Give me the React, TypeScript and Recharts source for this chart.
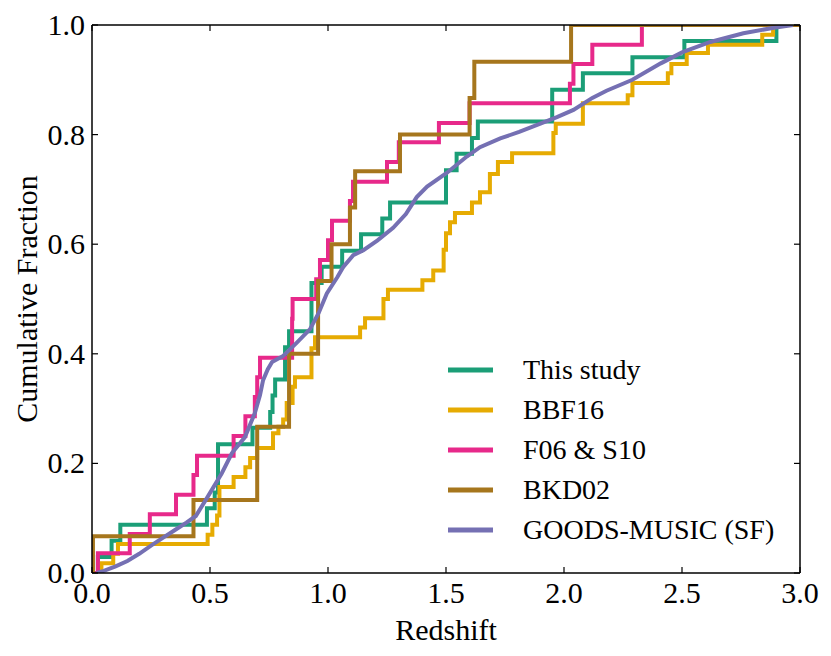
import { LineChart, Line, XAxis, YAxis, Legend } from 'recharts';

// Cumulative redshift distributions
const thisStudyZ = [0, 0.025, 0.083, 0.12, 0.487, 0.52, 0.534, 0.68, 0.755, 0.765, 0.776, 0.818, 0.835, 0.93, 0.973, 1.06, 1.14, 1.23, 1.263, 1.5, 1.545, 1.61, 1.635, 1.95, 2.08, 2.29, 2.51, 2.9, 3.0];
const thisStudyF = [0, 0.029, 0.059, 0.088, 0.118, 0.147, 0.235, 0.265, 0.294, 0.324, 0.353, 0.412, 0.441, 0.529, 0.559, 0.588, 0.618, 0.647, 0.676, 0.735, 0.765, 0.794, 0.824, 0.882, 0.912, 0.941, 0.971, 1.0, 1.0];

const bbf16Z = [0, 0.04, 0.09, 0.11, 0.49, 0.51, 0.53, 0.54, 0.6, 0.65, 0.67, 0.7, 0.767, 0.79, 0.81, 0.825, 0.85, 0.86, 0.93, 0.945, 1.136, 1.157, 1.235, 1.254, 1.4, 1.446, 1.49, 1.5, 1.517, 1.538, 1.61, 1.644, 1.686, 1.72, 1.78, 1.955, 1.965, 2.08, 2.27, 2.29, 2.44, 2.455, 2.52, 2.61, 2.84, 2.886, 3.0];
const bbf16F = [0, 0.018, 0.035, 0.053, 0.07, 0.088, 0.105, 0.157, 0.175, 0.193, 0.21, 0.228, 0.255, 0.267, 0.28, 0.31, 0.34, 0.357, 0.41, 0.43, 0.448, 0.465, 0.5, 0.517, 0.534, 0.552, 0.59, 0.62, 0.64, 0.657, 0.676, 0.695, 0.728, 0.75, 0.766, 0.803, 0.82, 0.857, 0.872, 0.894, 0.912, 0.929, 0.949, 0.964, 0.982, 1.0, 1.0];

const f06Z = [0, 0.025, 0.16, 0.245, 0.356, 0.43, 0.445, 0.6, 0.65, 0.69, 0.7, 0.712, 0.848, 0.85, 0.95, 0.966, 1.0, 1.017, 1.093, 1.106, 1.25, 1.3, 1.47, 1.6, 2.025, 2.04, 2.12, 2.33, 3.0];
const f06F = [0, 0.036, 0.071, 0.107, 0.143, 0.179, 0.214, 0.25, 0.286, 0.321, 0.357, 0.393, 0.464, 0.5, 0.536, 0.571, 0.607, 0.643, 0.679, 0.714, 0.75, 0.786, 0.821, 0.857, 0.893, 0.929, 0.964, 1.0, 1.0];

const bkd02Z = [0, 0.004, 0.43, 0.7, 0.835, 0.958, 1.015, 1.093, 1.115, 1.305, 1.6, 1.62, 2.03, 3.0];
const bkd02F = [0, 0.067, 0.133, 0.267, 0.4, 0.533, 0.6, 0.667, 0.733, 0.8, 0.867, 0.933, 1.0, 1.0];

const goodsZ = [0.02, 0.05, 0.1, 0.15, 0.2, 0.25, 0.3, 0.35, 0.4, 0.44, 0.49, 0.55, 0.593, 0.648, 0.69, 0.712, 0.725, 0.745, 0.763, 0.81, 0.867, 0.924, 0.96, 0.995, 1.04, 1.064, 1.107, 1.15, 1.21, 1.276, 1.33, 1.376, 1.42, 1.503, 1.588, 1.644, 1.73, 1.81, 1.9, 1.97, 2.04, 2.12, 2.18, 2.29, 2.41, 2.5, 2.62, 2.76, 2.89, 2.97];
const goodsF = [0, 0.004, 0.012, 0.022, 0.035, 0.05, 0.064, 0.078, 0.092, 0.104, 0.139, 0.182, 0.219, 0.248, 0.292, 0.325, 0.352, 0.372, 0.385, 0.396, 0.42, 0.445, 0.474, 0.51, 0.54, 0.558, 0.58, 0.589, 0.607, 0.63, 0.655, 0.686, 0.705, 0.73, 0.76, 0.777, 0.793, 0.805, 0.82, 0.832, 0.845, 0.867, 0.88, 0.9, 0.93, 0.95, 0.969, 0.985, 0.995, 1.0];

const legendOrder = ['This study', 'BBF16', 'F06 & S10', 'BKD02', 'GOODS-MUSIC (SF)'];
const xTicks = [0, 0.5, 1.0, 1.5, 2.0, 2.5, 3.0];
const yTicks = [0, 0.2, 0.4, 0.6, 0.8, 1.0];

const FONT = '"Liberation Serif", "Times New Roman", serif';

const zip = (z: number[], f: number[]) => z.map((v, i) => ({ z: v, f: f[i] }));

const BottomTick = ({ x, y, payload }: any) => (
  <g>
    <line x1={x} y1={y} x2={x} y2={y - 6} stroke="#000" strokeWidth={1.2} />
    <text x={x} y={y + 30} textAnchor="middle" fontSize={30} fontFamily={FONT} fill="#000">
      {payload.value.toFixed(1)}
    </text>
  </g>
);

const TopTick = ({ x, y }: any) => (
  <line x1={x} y1={y} x2={x} y2={y + 6} stroke="#000" strokeWidth={1.2} />
);

const LeftTick = ({ x, y, payload }: any) => (
  <g>
    <line x1={x} y1={y} x2={x + 6} y2={y} stroke="#000" strokeWidth={1.2} />
    <text x={x - 7} y={y + 10} textAnchor="end" fontSize={30} fontFamily={FONT} fill="#000">
      {payload.value.toFixed(1)}
    </text>
  </g>
);

const RightTick = ({ x, y }: any) => (
  <line x1={x} y1={y} x2={x - 6} y2={y} stroke="#000" strokeWidth={1.2} />
);

const renderLegend = (props: any) => {
  const items = [...(props.payload || [])].sort(
    (a: any, b: any) => legendOrder.indexOf(a.value) - legendOrder.indexOf(b.value)
  );
  return (
    <div>
      {items.map((entry: any) => (
        <div key={entry.value} style={{ display: 'flex', alignItems: 'center', height: 40 }}>
          <svg width={45} height={6} style={{ display: 'block' }}>
            <line x1={0} y1={3} x2={45} y2={3} stroke={entry.color} strokeWidth={5} />
          </svg>
          <span style={{ marginLeft: 30, fontFamily: FONT, fontSize: 28, color: '#000', lineHeight: '40px' }}>
            {entry.value}
          </span>
        </div>
      ))}
    </div>
  );
};

export default function App() {
  return (
    <div style={{ width: 831, height: 656, position: 'relative', background: '#fff' }}>
      <style>{'body { margin: 0; }'}</style>
      <LineChart width={831} height={656} margin={{ top: 0, right: 0, left: 0, bottom: 0 }}>
        <XAxis
          dataKey="z"
          type="number"
          domain={[0, 3]}
          ticks={xTicks}
          allowDataOverflow
          height={83}
          tickSize={0}
          tickMargin={0}
          tickLine={false}
          tick={<BottomTick />}
          axisLine={{ stroke: '#000', strokeWidth: 1.5 }}
          label={{
            content: () => (
              <text x={446} y={640} textAnchor="middle" fontSize={30} fontFamily={FONT} fill="#000">
                Redshift
              </text>
            ),
          }}
        />
        <XAxis
          xAxisId="top"
          dataKey="z"
          type="number"
          orientation="top"
          domain={[0, 3]}
          ticks={xTicks}
          allowDataOverflow
          height={25}
          tickSize={0}
          tickMargin={0}
          tickLine={false}
          tick={<TopTick />}
          axisLine={{ stroke: '#000', strokeWidth: 1.5 }}
        />
        <YAxis
          type="number"
          domain={[0, 1]}
          ticks={yTicks}
          allowDataOverflow
          width={92}
          tickSize={0}
          tickMargin={0}
          tickLine={false}
          tick={<LeftTick />}
          axisLine={{ stroke: '#000', strokeWidth: 1.5 }}
          label={{
            content: () => (
              <text
                x={37}
                y={299}
                transform="rotate(-90 37 299)"
                textAnchor="middle"
                fontSize={30}
                fontFamily={FONT}
                fill="#000"
              >
                Cumulative Fraction
              </text>
            ),
          }}
        />
        <YAxis
          yAxisId="right"
          type="number"
          orientation="right"
          domain={[0, 1]}
          ticks={yTicks}
          allowDataOverflow
          width={31}
          tickSize={0}
          tickMargin={0}
          tickLine={false}
          tick={<RightTick />}
          axisLine={{ stroke: '#000', strokeWidth: 1.5 }}
        />
        <Legend
          layout="vertical"
          align="center"
          verticalAlign="middle"
          content={renderLegend}
          wrapperStyle={{ left: 448, top: 350, width: 340 }}
        />
        <Line data={zip(thisStudyZ, thisStudyF)} dataKey="f" name="This study" type="stepAfter" stroke="#1b9e77" strokeWidth={4} dot={false} isAnimationActive={false} />
        <Line data={zip(bbf16Z, bbf16F)} dataKey="f" name="BBF16" type="stepAfter" stroke="#e6ab02" strokeWidth={4} dot={false} isAnimationActive={false} />
        <Line data={zip(f06Z, f06F)} dataKey="f" name="F06 & S10" type="stepAfter" stroke="#e7298a" strokeWidth={4} dot={false} isAnimationActive={false} />
        <Line data={zip(bkd02Z, bkd02F)} dataKey="f" name="BKD02" type="stepAfter" stroke="#a6761d" strokeWidth={4} dot={false} isAnimationActive={false} />
        <Line data={zip(goodsZ, goodsF)} dataKey="f" name="GOODS-MUSIC (SF)" type="linear" stroke="#7570b3" strokeWidth={4} dot={false} isAnimationActive={false} />
      </LineChart>
    </div>
  );
}
